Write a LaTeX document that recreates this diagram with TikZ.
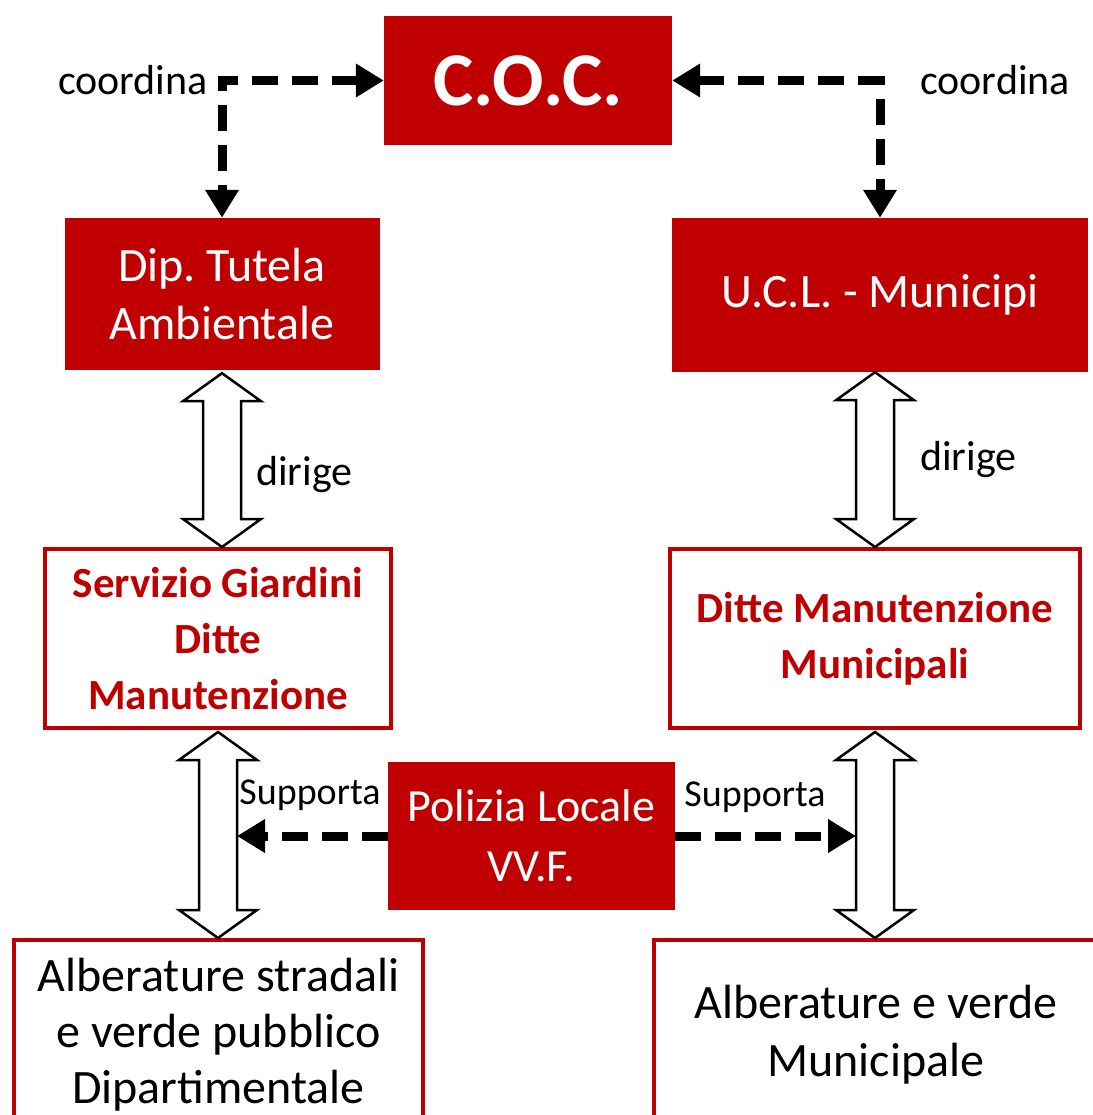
\documentclass[tikz,border=0pt]{standalone}
\usepackage{fontspec}
\setmainfont{Carlito}
\usetikzlibrary{arrows.meta, calc, positioning}
\definecolor{cocred}{HTML}{C00000}

% hollow double arrow between two points (x taken from the first one)
\newcommand{\hollowarrow}[2]{%
  \draw[hollow] let \p1=#1, \p2=#2 in
    (\x1,\y1) -- ({\x1+39pt},{\y1-28pt}) -- ({\x1+19pt},{\y1-28pt})
    -- ({\x1+19pt},{\y2+28pt}) -- ({\x1+39pt},{\y2+28pt}) -- (\x1,\y2)
    -- ({\x1-39pt},{\y2+28pt}) -- ({\x1-19pt},{\y2+28pt})
    -- ({\x1-19pt},{\y1-28pt}) -- ({\x1-39pt},{\y1-28pt}) -- cycle;}

\begin{document}
\begin{tikzpicture}[x=1pt, y=-1pt,
    redbox/.style={fill=cocred, text=white, draw=none, inner sep=0pt, align=center, font=\fontsize{48}{58}\selectfont},
    linebox/.style={draw=cocred, line width=4pt, fill=white, inner sep=0pt, align=center},
    dasharrow/.style={line width=9pt, dash pattern=on 26pt off 14pt, >={Triangle[length=28pt,width=32pt]}},
    hollow/.style={draw=black, line width=2.5pt, fill=white, line join=miter},
    lbl/.style={inner sep=0pt, font=\fontsize{42}{50}\selectfont}]
\useasboundingbox (0,0) rectangle (1092,1115);

\node[redbox, minimum width=288pt, minimum height=129pt, font=\fontsize{76}{90}\selectfont\bfseries] (coc) at (528,80.5) {C.O.C.};
\node[redbox, minimum width=315pt, minimum height=152pt] (dip) at (222,294) {Dip.\ Tutela\\Ambientale};
\node[redbox, minimum width=416pt, minimum height=154pt] (ucl) at (880,295) {U.C.L. - Municipi};

\node[linebox, text=cocred, font=\fontsize{43}{56}\selectfont\bfseries, minimum width=346pt, minimum height=179pt] (serv) at (218,638.5) {Servizio Giardini\\Ditte\\Manutenzione};
\node[linebox, text=cocred, font=\fontsize{43}{56}\selectfont\bfseries, minimum width=410pt, minimum height=179pt] (ditte) at (875,638.5) {Ditte Manutenzione\\Municipali};

\node[redbox, minimum width=287pt, minimum height=148pt, font=\fontsize{46}{60}\selectfont] (pol) at (531.5,836) {Polizia Locale\\VV.F.};

\node[linebox, font=\fontsize{48}{56}\selectfont, minimum width=409pt, minimum height=190pt] (albl) at (218.5,1035) {Alberature stradali\\e verde pubblico\\Dipartimentale};
\node[linebox, font=\fontsize{48}{58}\selectfont, minimum width=444pt, minimum height=190pt] (albr) at (876,1035) {Alberature e verde\\Municipale};

% coordina
\draw[dasharrow, <->] (coc.west) -| (dip.north);
\draw[dasharrow, <->] (coc.east) -| (ucl.north);
\node[lbl, anchor=east] (coordl) at ($(dip.north |- coc.west)+(-14,0)$) {coordina};
\node[lbl, anchor=west] (coordr) at ($(ucl.north |- coc.east)+(40,0)$) {coordina};

% dirige
\hollowarrow{([yshift=-3pt]dip.south)}{(serv.north)}
\hollowarrow{(ucl.south -| ditte.north)}{(ditte.north)}
\node[lbl, anchor=west] (dirl) at (256,475) {dirige};
\node[lbl, anchor=west] (dirr) at (920,460) {dirige};

\hollowarrow{([yshift=-2pt]serv.south)}{(albl.north)}
\hollowarrow{([yshift=-2pt]ditte.south)}{(ditte.south |- albr.north)}

% supporta
\coordinate (sl) at ([xshift=19pt]serv.south);
\coordinate (sr) at ([xshift=-19pt]ditte.south);
\draw[dasharrow, ->] (pol.west) -- (pol.west -| sl);
\draw[dasharrow, ->] (pol.east) -- (pol.east -| sr);
\node[lbl, font=\fontsize{38}{46}\selectfont] (supl) at (310,795) {Supporta};
\node[lbl, font=\fontsize{38}{46}\selectfont] (supr) at (755,797) {Supporta};

\end{tikzpicture}
\end{document}
